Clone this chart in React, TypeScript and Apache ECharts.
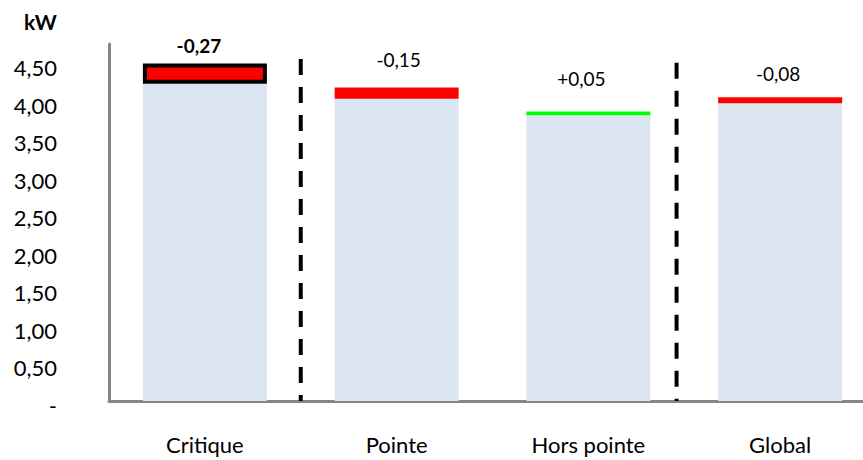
import React, { useEffect, useRef } from "react";
import * as echarts from "echarts";

const categories = ["Critique", "Pointe", "Hors pointe", "Global"];
const baseValues = [4.23, 4.03, 3.81, 3.97];
const deltaValues = [-0.27, -0.15, 0.05, -0.08];
const yMax = 4.76;
const yInterval = 0.5;
// dashed separators: [x position on a 0..4 band scale, top value]
const separatorX = [1, 2.96];
const separatorTop = [4.56, 4.51];

const FONT = "Lato, 'Open Sans', sans-serif";

const fmt = (v: number) => v.toFixed(2).replace(".", ",");
const fmtDelta = (v: number) => (v > 0 ? "+" : "-") + fmt(Math.abs(v));

const labelDistance = [9, 19, 24, 14];
const labelOffsetX = [-6, 2, -7, -2];

export default function App() {
  const ref = useRef<HTMLDivElement>(null);
  useEffect(() => {
    if (!ref.current) return;
    const chart = echarts.init(ref.current, undefined, { renderer: "svg" });
    const deltaData = deltaValues.map((d, i) => ({
      value: Math.abs(d),
      itemStyle: {
        color: d < 0 ? "#FF0000" : "#00FF00",
        borderColor: i === 0 ? "#000000" : "transparent",
        borderWidth: i === 0 ? 4 : 0,
      },
      label: {
        distance: labelDistance[i],
        offset: [labelOffsetX[i], 0],
        fontWeight: i === 0 ? "bold" : "normal",
      },
    }));
    const sepSeries = separatorX.map((x, i) => ({
      type: "line",
      xAxisIndex: 1,
      yAxisIndex: 0,
      symbol: "none",
      silent: true,
      data: [
        [x, separatorTop[i]],
        [x, 0],
      ],
      lineStyle: { color: "#000000", width: 4, type: [16, 12] },
      z: 5,
    }));
    chart.setOption({
      animation: false,
      title: {
        text: "kW",
        left: 19,
        top: 6,
        textStyle: { fontFamily: FONT, fontSize: 21, fontWeight: "bold", color: "#000" },
      },
      grid: { left: 109, right: 4, top: 44, bottom: 59, containLabel: false },
      xAxis: [
        {
          type: "category",
          data: categories,
          axisLine: { lineStyle: { color: "#868686", width: 3 } },
          axisTick: { show: false },
          axisLabel: { fontFamily: FONT, fontSize: 22, color: "#000", margin: 32 },
        },
        { type: "value", min: 0, max: 4, show: false },
      ],
      yAxis: {
        type: "value",
        min: 0,
        max: yMax,
        interval: yInterval,
        splitLine: { show: false },
        axisTick: { show: false },
        axisLine: { show: true, lineStyle: { color: "#868686", width: 3 } },
        axisLabel: {
          fontFamily: FONT,
          fontSize: 22,
          color: "#000",
          margin: 52,
          verticalAlign: "top",
          lineHeight: 8,
          showMaxLabel: false,
          formatter: (v: number) => (v === 0 ? "-" : fmt(v)),
        },
      },
      series: [
        {
          type: "bar",
          stack: "t",
          barWidth: 124,
          data: baseValues,
          itemStyle: { color: "#DCE6F2" },
          silent: true,
        },
        {
          type: "bar",
          stack: "t",
          barWidth: 124,
          data: deltaData,
          label: {
            show: true,
            position: "top",
            fontFamily: FONT,
            fontSize: 19,
            color: "#000",
            formatter: (p: any) => fmtDelta(deltaValues[p.dataIndex]),
          },
          z: 3,
        },
        ...sepSeries,
      ],
    });
    return () => chart.dispose();
  }, []);
  return (
    <div style={{ position: "absolute", left: 0, top: 0, width: 863, height: 460, overflow: "hidden" }}>
      <div ref={ref} style={{ width: 880, height: 460 }} />
    </div>
  );
}
